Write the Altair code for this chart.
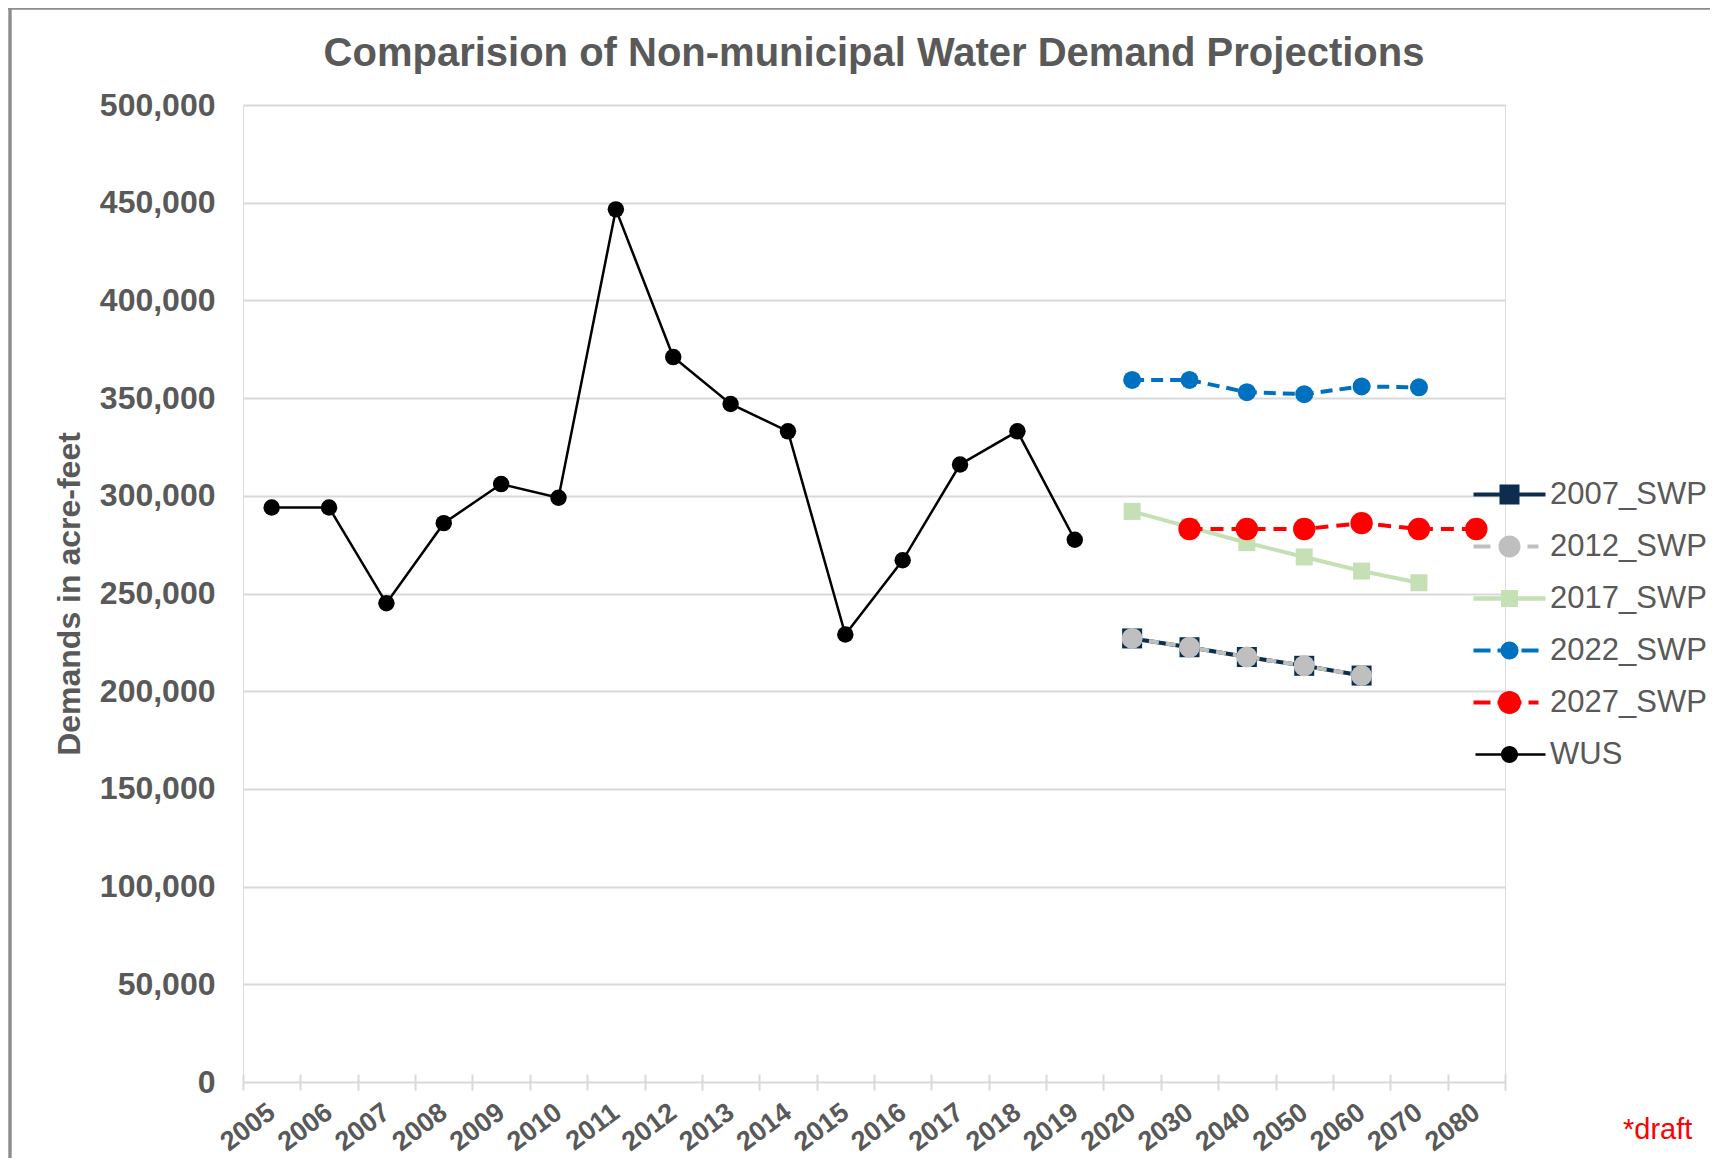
import altair as alt
import pandas as pd

# ---------------- data ----------------
hist_years = ["2005", "2006", "2007", "2008", "2009", "2010", "2011", "2012",
              "2013", "2014", "2015", "2016", "2017", "2018", "2019"]
wus = [294000, 294000, 245000, 286000, 306000, 299000, 446600, 371000,
       347000, 333000, 229000, 267000, 316000, 333000, 277500]

proj_years = ["2020", "2030", "2040", "2050", "2060", "2070", "2080"]
swp2007_years = ["2020", "2030", "2040", "2050", "2060"]
swp2007 = [227000, 222500, 217500, 213000, 208000]
swp2012_years = ["2020", "2030", "2040", "2050", "2060"]
swp2012 = [227000, 222500, 217500, 213000, 208000]
swp2017_years = ["2020", "2030", "2040", "2050", "2060", "2070"]
swp2017 = [292000, 284000, 276000, 268700, 261500, 255500]
swp2022_years = ["2020", "2030", "2040", "2050", "2060", "2070"]
swp2022 = [359300, 359300, 353000, 352000, 356000, 355500]
swp2027_years = ["2030", "2040", "2050", "2060", "2070", "2080"]
swp2027 = [283000, 283000, 283000, 286000, 283000, 283000]

all_years = hist_years + proj_years
series_names = ["2007_SWP", "2012_SWP", "2017_SWP", "2022_SWP", "2027_SWP", "WUS"]
y_ticks = [0, 50000, 100000, 150000, 200000, 250000, 300000, 350000, 400000, 450000, 500000]

rows = []
for name, yrs, vals in [("2007_SWP", swp2007_years, swp2007),
                        ("2012_SWP", swp2012_years, swp2012),
                        ("2017_SWP", swp2017_years, swp2017),
                        ("2022_SWP", swp2022_years, swp2022),
                        ("2027_SWP", swp2027_years, swp2027),
                        ("WUS", hist_years, wus)]:
    for yr, v in zip(yrs, vals):
        rows.append({"series": name, "year": yr, "value": v})
df = pd.DataFrame(rows)

# ---------------- styles ----------------
FONT = "Liberation Sans"
GRAY = "#595959"
W, H = 1262, 977

colors = {"2007_SWP": "#0C2D4E", "2012_SWP": "#BFBFBF", "2017_SWP": "#C5E0B4",
          "2022_SWP": "#0070C0", "2027_SWP": "#FF0000", "WUS": "#000000"}
line_style = {
    "2007_SWP": dict(strokeWidth=4),
    "2012_SWP": dict(strokeWidth=4, strokeDash=[10, 7]),
    "2017_SWP": dict(strokeWidth=4),
    "2022_SWP": dict(strokeWidth=4, strokeDash=[12, 7]),
    "2027_SWP": dict(strokeWidth=4, strokeDash=[13, 8]),
    "WUS": dict(strokeWidth=2.5),
}
point_style = {
    "2007_SWP": dict(shape="square", size=400),
    "2012_SWP": dict(shape="circle", size=441),
    "2017_SWP": dict(shape="square", size=289),
    "2022_SWP": dict(shape="circle", size=324),
    "2027_SWP": dict(shape="circle", size=500),
    "WUS": dict(shape="circle", size=270),
}


def rect(x0, x1, h):
    return f"M{x0},{-h}H{x1}V{h}H{x0}Z"


def circ(r):
    return f"M{-r},0A{r},{r} 0 1,1 {r},0A{r},{r} 0 1,1 {-r},0Z"


def sq(s):
    return f"M{-s},{-s}H{s}V{s}H{-s}Z"


legend_paths = [
    rect(-3.6, 3.6, 0.2) + sq(1.0),
    rect(-3.6, -1.9, 0.2) + circ(1.1) + rect(1.8, 2.9, 0.2),
    rect(-3.6, 3.6, 0.22) + sq(0.85),
    rect(-3.6, -1.9, 0.2) + rect(-1.2, 0, 0.2) + circ(0.9) + rect(1.2, 2.9, 0.2),
    rect(-3.6, -1.9, 0.2) + rect(-1.2, 1.2, 0.2) + circ(1.15) + rect(1.9, 2.9, 0.2),
    rect(-3.4, 3.6, 0.13) + circ(0.85),
]

x_enc = alt.X(
    "year:N", sort=all_years,
    scale=alt.Scale(type="band", domain=all_years, paddingInner=0, paddingOuter=0),
    axis=alt.Axis(title=None, domain=False, grid=False, ticks=True, tickBand="extent",
                  tickSize=16, tickColor="#D9D9D9", tickWidth=2, offset=-8,
                  labelAngle=-37, labelAlign="right", labelBaseline="middle",
                  labelFontSize=27, labelFontWeight="bold", labelColor=GRAY,
                  labelFont=FONT, labelPadding=19),
)
y_enc = alt.Y(
    "value:Q",
    scale=alt.Scale(domain=[0, 500000], nice=False, zero=True),
    axis=alt.Axis(title="Demands in acre-feet", values=y_ticks, format=",d",
                  domain=False, ticks=False, tickSize=0, grid=True,
                  gridColor="#D9D9D9", gridWidth=2,
                  labelFontSize=32, labelFontWeight="bold", labelColor=GRAY,
                  labelFont=FONT, labelPadding=28,
                  titleFontSize=32, titleFontWeight="bold", titleColor=GRAY,
                  titleFont=FONT, titlePadding=13),
)

base = alt.Chart(df)

line_layers = []
point_layers = []
for name in series_names:
    line_layers.append(
        base.transform_filter(alt.datum.series == name)
        .mark_line(color=colors[name], **line_style[name])
        .encode(x=x_enc, y=y_enc)
    )
    point_layers.append(
        base.transform_filter(alt.datum.series == name)
        .mark_point(filled=True, opacity=1, color=colors[name], **point_style[name])
        .encode(x=x_enc, y=y_enc)
    )

leg = alt.Legend(title=None, orient="none", legendX=1251, legendY=374, padding=0,
                 labelFontSize=31, labelColor=GRAY, labelFont=FONT, labelOffset=25,
                 rowPadding=20, symbolSize=400, symbolStrokeWidth=0, labelLimit=400)

legend_layer = (
    base.transform_filter("false")
    .mark_point(filled=True, opacity=1, size=400)
    .encode(
        x=x_enc, y=y_enc,
        color=alt.Color("series:N", scale=alt.Scale(domain=series_names,
                                                    range=[colors[s] for s in series_names]),
                        legend=leg),
        shape=alt.Shape("series:N", scale=alt.Scale(domain=series_names, range=legend_paths),
                        legend=leg),
    )
)

one = alt.Data(values=[{"k": 1}])
title_layer = alt.Chart(one).mark_text(
    text="Comparision of Non-municipal Water Demand Projections", fontSize=40,
    fontWeight="bold", color=GRAY, align="center", baseline="alphabetic", font=FONT
).encode(x=alt.value(W / 2), y=alt.value(-39))

draft_layer = alt.Chart(one).mark_text(
    text="*draft", fontSize=29, color="#FF0000", align="left", baseline="alphabetic", font=FONT
).encode(x=alt.value(1380), y=alt.value(1034))

border_left = alt.Chart(one).mark_rule(color="#8C8C8C", strokeWidth=3.4).encode(
    x=alt.value(-233), y=alt.value(-97), y2=alt.value(1053))
border_top = alt.Chart(one).mark_rule(color="#8C8C8C", strokeWidth=3.4).encode(
    x=alt.value(-235), x2=alt.value(1467), y=alt.value(-97))

chart = alt.layer(
    *line_layers, *point_layers, legend_layer,
    title_layer, draft_layer, border_left, border_top
).properties(
    width=W, height=H,
    autosize=alt.AutoSizeParams(type="none"),
    padding={"left": 235, "top": 97, "right": 205, "bottom": 76},
).configure_view(stroke=None).configure(font=FONT, background="white")

chart.save("out.html", embed_options={"renderer": "svg", "actions": False})
